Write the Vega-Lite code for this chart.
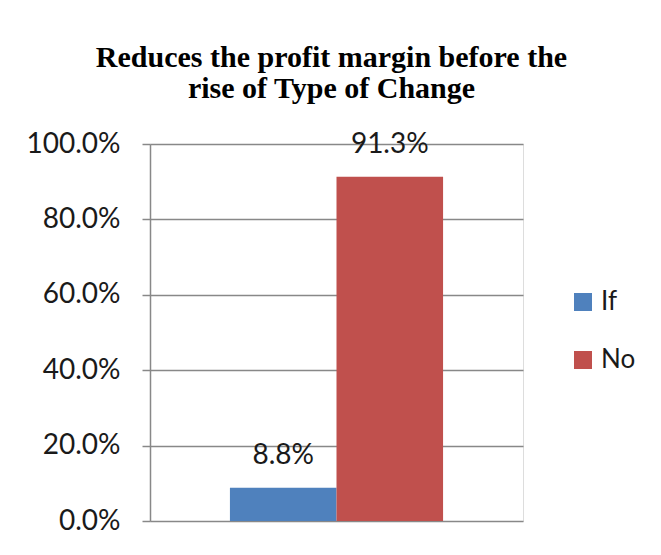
{
  "$schema": "https://vega.github.io/schema/vega-lite/v6.json",
  "autosize": {"type": "none"},
  "width": 373,
  "height": 377,
  "padding": {"left": 150, "top": 144, "right": 138, "bottom": 34},
  "background": "white",
  "title": {
    "text": ["Reduces the profit margin before the", "rise of Type of Change"],
    "font": "Liberation Serif",
    "fontWeight": "bold",
    "fontSize": 30,
    "lineHeight": 31,
    "color": "#000000",
    "anchor": "middle",
    "frame": "group",
    "offset": 26,
    "dx": -5
  },
  "data": {"values": [
    {"series": "If", "value": 0.088},
    {"series": "No", "value": 0.913}
  ]},
  "encoding": {
    "x": {"field": "series", "type": "nominal", "axis": null, "scale": {"paddingInner": 0, "paddingOuter": 0.75}},
    "y": {"field": "value", "type": "quantitative", "scale": {"domain": [0, 1], "nice": false},
      "axis": {
        "title": null, "values": [0, 0.2, 0.4, 0.6, 0.8, 1.0], "format": ".1%",
        "domainColor": "#888888", "domainWidth": 1.5,
        "tickColor": "#888888", "tickSize": 8, "tickWidth": 1.5,
        "gridColor": "#888888", "gridWidth": 1.5, "grid": true,
        "labelFont": "Lato", "labelFontSize": 28, "labelColor": "#1a1a1a", "labelPadding": 22
      }}
  },
  "layer": [
    {
      "mark": {"type": "bar"},
      "encoding": {
        "color": {"field": "series", "type": "nominal",
          "scale": {"domain": ["If", "No"], "range": ["#4F81BD", "#C0504D"]},
          "legend": {"title": null, "orient": "none", "legendX": 420, "legendY": 145,
            "symbolType": "square", "symbolSize": 324, "symbolStrokeWidth": 0,
            "labelFont": "Lato", "labelFontSize": 26, "labelColor": "#1a1a1a",
            "labelOffset": 5, "rowPadding": 32}
        }
      }
    },
    {
      "mark": {"type": "text", "baseline": "middle", "dy": -32, "font": "Lato", "fontSize": 28, "color": "#1a1a1a"},
      "encoding": {
        "text": {"field": "value", "type": "quantitative", "format": ".1%"}
      }
    }
  ]
}
